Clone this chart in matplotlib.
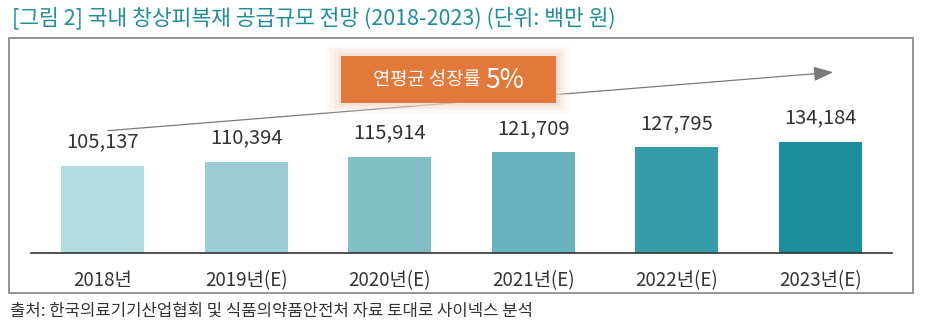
import matplotlib
matplotlib.use('Agg')
import matplotlib.pyplot as plt
from matplotlib.patches import Rectangle

plt.rcParams['font.family'] = ['Noto Sans CJK KR', 'DejaVu Sans']

# 데이터
years = ['2018년', '2019년(E)', '2020년(E)', '2021년(E)', '2022년(E)', '2023년(E)']
values = [105137, 110394, 115914, 121709, 127795, 134184]
colors = ['#b3dbe0', '#9dcdd4', '#83bfc7', '#68b3bd', '#369ca8', '#1b8c99']

fig = plt.figure(figsize=(9.29, 3.35), dpi=100)

# 바깥 테두리 상자
fig.patches.append(Rectangle((9/929, 1-293/335), 904/929, 255/335, transform=fig.transFigure,
                             fill=False, edgecolor='#8a8a8a', linewidth=1.3))

# 제목 / 출처
fig.text(12/929, 1-18/335, '[그림 2] 국내 창상피복재 공급규모 전망 (2018-2023) (단위: 백만 원)',
         fontsize=15.5, color='#1f8e9a', va='center', ha='left')
fig.text(10/929, 1-311/335, '출처: 한국의료기기산업협회 및 식품의약품안전처 자료 토대로 사이넥스 분석',
         fontsize=12, color='#333333', va='center', ha='left')

ax = fig.add_axes([31/929, (335-253)/335, 861/929, 208/335])
x = range(len(years))
ax.bar(x, values, width=0.58, color=colors)
ax.set_xlim(-0.5, len(years) - 0.5)
ax.set_ylim(0, 208 * 1209)

for xi, v in zip(x, values):
    ax.text(xi, v + 24 * 1209, f'{v:,}', ha='center', va='center', fontsize=14.5, color='#333333')

ax.set_xticks(list(x))
ax.set_xticklabels(years, fontsize=13.5, color='#333333')
ax.tick_params(axis='x', length=0, pad=12)
ax.set_yticks([])
for s in ['top', 'left', 'right']:
    ax.spines[s].set_visible(False)
ax.spines['bottom'].set_color('#333333')
ax.spines['bottom'].set_linewidth(1.2)

# 추세 화살표
ax.annotate('', xy=(0.935, 0.87), xytext=(0.086, 0.587), xycoords='axes fraction',
            arrowprops=dict(arrowstyle='-|>,head_length=1.2,head_width=0.45', color='#7a7a7a', lw=0.9))

# 연평균 성장률 박스 (그림자 효과)
for i, a in enumerate([0.12, 0.18, 0.28, 0.45]):
    pad = 14 - i * 3.5
    fig.patches.append(Rectangle(((341 - pad)/929, 1-(103 + pad*0.8)/335), (215 + 2*pad)/929,
                                 (47 + 1.6*pad)/335, transform=fig.transFigure,
                                 facecolor='#f2d9cd', edgecolor='none', alpha=a, zorder=5))
fig.patches.append(Rectangle((341/929, 1-103/335), 215/929, 47/335, transform=fig.transFigure,
                             facecolor='#e2793a', edgecolor='none', zorder=6))
fig.text(485/929, 1-80/335, '연평균 성장률 ', fontsize=13.5, color='white', ha='right', va='center', zorder=7)
fig.text(485/929, 1-80/335, '5%', fontsize=19, color='white', ha='left', va='center', zorder=7)

fig.savefig('out.png', dpi=100)
